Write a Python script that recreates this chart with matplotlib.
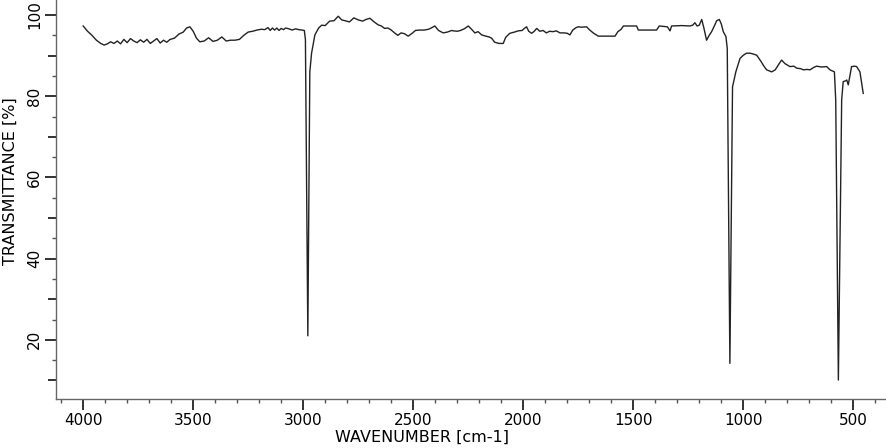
import numpy as np
import matplotlib
matplotlib.use("Agg")
import matplotlib.pyplot as plt
from matplotlib.ticker import MultipleLocator, FixedLocator

# IR spectrum (wavenumber in cm-1, transmittance in %)
wavenumber = [
    4000, 3980, 3960, 3940, 3920, 3905, 3890, 3875, 3860, 3845, 3830, 3815,
    3800, 3785, 3770, 3755, 3740, 3725, 3710, 3695, 3680, 3665, 3650, 3635,
    3620, 3605, 3585, 3565, 3545, 3530, 3515, 3500, 3485, 3470, 3450, 3430,
    3410, 3390, 3370, 3350, 3330, 3310, 3290, 3270, 3250, 3230, 3210, 3190,
    3175, 3160, 3150, 3140, 3130, 3120, 3110, 3100, 3090, 3080, 3065, 3050,
    3035, 3020, 3005, 2995, 2990, 2979, 2970, 2962, 2947, 2930, 2916, 2900,
    2880, 2860, 2841, 2825, 2810, 2790, 2770, 2750, 2730, 2715, 2697, 2680,
    2660, 2645, 2630, 2615, 2600, 2585, 2570, 2555, 2540, 2523, 2505, 2490,
    2470, 2450, 2430, 2415, 2402, 2385, 2364, 2345, 2325, 2318, 2300, 2285,
    2268, 2250, 2235, 2220, 2205, 2189, 2170, 2155, 2144, 2130, 2110, 2091,
    2080, 2061, 2040, 2023, 2005, 1995, 1985, 1975, 1962, 1950, 1939, 1925,
    1910, 1895, 1880, 1865, 1850, 1833, 1815, 1800, 1788, 1775, 1760, 1750,
    1735, 1712, 1700, 1680, 1659, 1620, 1583, 1570, 1555, 1545, 1510, 1485,
    1477, 1430, 1394, 1382, 1345, 1333, 1326, 1280, 1243, 1230, 1220, 1210,
    1200, 1189, 1180, 1167, 1155, 1144, 1130, 1121, 1109, 1100, 1091, 1079,
    1073, 1061, 1049, 1034, 1015, 1000, 985, 970, 955, 939, 920, 905,
    894, 871, 855, 841, 826, 810, 788, 770, 757, 740, 727, 710,
    697, 680, 667, 645, 621, 606, 590, 586, 580, 568, 553, 546,
    535, 530, 523, 508, 495, 485, 470, 455,
]
transmittance = [
    97.3, 96.0, 95.0, 93.8, 93.0, 92.6, 92.9, 93.4, 93.0, 93.6, 92.9, 94.0,
    93.2, 94.2, 93.6, 93.2, 93.9, 93.3, 94.0, 93.0, 93.6, 94.2, 93.1, 93.8,
    93.3, 94.0, 94.3, 95.3, 95.8, 96.8, 97.1, 96.0, 94.3, 93.4, 93.6, 94.4,
    93.5, 93.8, 94.6, 93.6, 93.8, 93.8, 94.0, 95.0, 95.8, 96.0, 96.3, 96.5,
    96.4, 96.9, 96.2, 96.8, 96.3, 96.8, 96.2, 96.7, 96.4, 96.8, 96.6, 96.3,
    96.6, 96.4, 96.3, 96.2, 94.0, 21.0, 86.0, 90.6, 95.1, 96.8, 97.5, 97.4,
    98.5, 98.6, 99.7, 98.8, 98.6, 98.3, 99.3, 98.8, 98.5, 98.9, 99.2, 98.4,
    97.6, 97.3, 96.7, 96.8, 96.3, 95.6, 95.0, 95.6, 95.4, 94.8, 95.5, 96.2,
    96.3, 96.3, 96.5, 96.9, 97.3, 96.2, 95.6, 95.8, 96.2, 96.1, 96.0, 96.2,
    96.6, 97.3, 96.5, 95.6, 95.9, 95.1, 94.8, 94.6, 94.3, 93.3, 93.0, 93.0,
    94.5, 95.5, 95.8, 96.1, 96.2, 96.7, 97.1, 96.0, 95.5, 96.0, 96.7, 96.0,
    96.2, 95.6, 96.0, 95.9, 96.1, 95.6, 95.6, 95.5, 95.1, 96.3, 96.9, 97.1,
    97.0, 97.1, 96.4, 95.5, 94.8, 94.8, 94.8, 95.9, 96.5, 97.3, 97.3, 97.3,
    96.3, 96.3, 96.3, 97.3, 97.1, 96.1, 97.3, 97.4, 97.3, 97.5, 98.1, 97.3,
    97.5, 98.9, 97.0, 93.8, 95.0, 95.9, 97.5, 98.6, 98.9, 97.8, 95.9, 94.7,
    91.8, 14.2, 82.3, 86.0, 89.3, 90.1, 90.6, 90.6, 90.4, 90.1, 88.6, 87.3,
    86.5, 86.0, 86.5, 87.7, 88.9, 88.0, 87.3, 87.4, 86.9, 86.8, 86.5, 86.6,
    86.5, 87.1, 87.4, 87.2, 87.3, 86.5, 86.1, 86.0, 79.0, 10.1, 79.1, 83.6,
    83.8, 84.0, 82.8, 87.3, 87.4, 87.3, 86.0, 80.7,
]

fig = plt.figure(figsize=(8.87, 4.48), dpi=100)
ax = fig.add_axes([0.063, 0.110, 0.937, 0.890])

ax.plot(wavenumber, transmittance, color="#222222", linewidth=1.0)

ax.set_xlim(4124, 347)
ax.set_ylim(5.5, 103.7)

for side in ["top", "right"]:
    ax.spines[side].set_visible(False)
for side in ["left", "bottom"]:
    ax.spines[side].set_color("#666666")
    ax.spines[side].set_linewidth(1.0)

ax.xaxis.set_major_locator(MultipleLocator(500))
ax.xaxis.set_minor_locator(MultipleLocator(100))
ax.yaxis.set_major_locator(MultipleLocator(20))
ax.yaxis.set_minor_locator(MultipleLocator(10))

ax.tick_params(axis="both", which="major", direction="out", length=8,
               width=1.3, color="#222222", labelsize=11, pad=2)
ax.tick_params(axis="x", which="minor", direction="out", length=3,
               width=1.0, color="#555555")
ax.tick_params(axis="y", which="minor", direction="out", length=5.5,
               width=1.3, color="#222222")
for lab in ax.get_yticklabels():
    lab.set_rotation(90)
    lab.set_va("center")

# third level of small y ticks at the odd multiples of 5
sec = ax.secondary_yaxis("left")
sec.yaxis.set_major_locator(FixedLocator(np.arange(5, 105, 10)))
sec.tick_params(direction="out", length=3, width=1.0, color="#555555",
                labelleft=False)
sec.spines["left"].set_visible(False)

ax.set_xlabel("WAVENUMBER [cm-1]", fontsize=11.5)
ax.set_ylabel("TRANSMITTANCE [%]", fontsize=11.5)
ax.xaxis.set_label_coords(0.44, -0.077)
ax.yaxis.set_label_coords(-0.046, 0.545)

fig.savefig("out.png", dpi=100)
